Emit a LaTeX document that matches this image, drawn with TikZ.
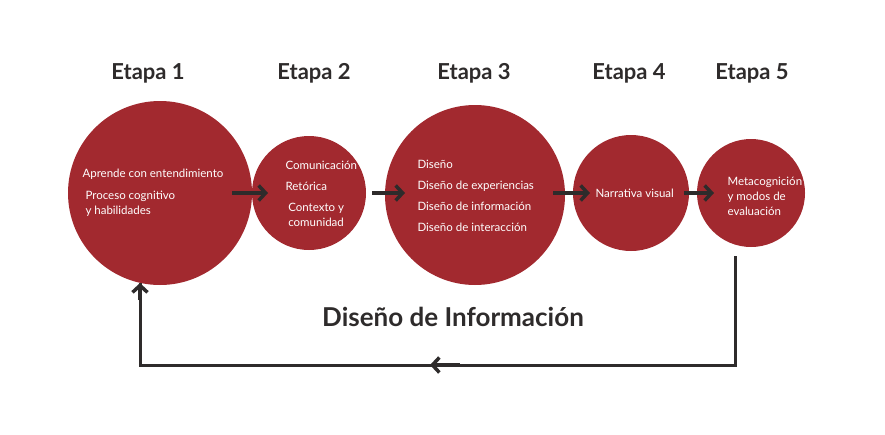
\documentclass[tikz,border=0pt]{standalone}
\usepackage{fontspec}
\setmainfont{Lato}
\usetikzlibrary{arrows.meta}
\definecolor{wine}{HTML}{A2292F}
\definecolor{dark}{HTML}{2E2B2B}
\begin{document}
\begin{tikzpicture}[x=1pt,y=-1pt,
  stage/.style={circle,fill=wine,draw=none,inner sep=0pt},
  ttl/.style={font=\bfseries\fontsize{22}{26}\selectfont,text=dark},
  txt/.style={text=white,font=\fontsize{11.5}{21}\selectfont,align=left,anchor=west},
  conn/.style={draw=dark,line width=3.5pt,-{Straight Barb[length=7pt,width=15pt,line width=3.5pt]}},
  loopline/.style={draw=dark,line width=3pt}]
\useasboundingbox (0,0) rectangle (885,434);
\node[stage,minimum size=184pt] (c1) at (160,193) {};
\node[stage,minimum size=114pt] (c2) at (309,193) {};
\node[stage,minimum size=180pt] (c3) at (475,195) {};
\node[stage,minimum size=116pt] (c4) at (631,193) {};
\node[stage,minimum size=108pt] (c5) at (751,193) {};
\node[ttl] (t1) at (148,73) {Etapa 1};
\node[ttl] (t2) at (314,73) {Etapa 2};
\node[ttl] (t3) at (474,73) {Etapa 3};
\node[ttl] (t4) at (629,73) {Etapa 4};
\node[ttl] (t5) at (752,73) {Etapa 5};
\node[txt] (l1) at (79,174) {Aprende con entendimiento};
\node[txt] (l1b) at (82,204) {Proceso cognitivo\\[-6pt]y habilidades};
\node[txt] (l2) at (282,194) {Comunicación\\Retórica\\\phantom{i}Contexto y\\[-6pt]\phantom{i}comunidad};
\node[txt] (l3) at (414,196) {Diseño\\Diseño de experiencias\\Diseño de información\\Diseño de interacción};
\node[txt] (l4) at (592,193) {Narrativa visual};
\node[txt] (l5) at (724,196) {Metacognición\\[-6pt]y modos de\\[-6pt]evaluación};
\node[font=\bfseries\fontsize{26}{30}\selectfont,text=dark] (bot) at (453,317) {Diseño de Información};
\draw[conn] (232,193) -- (268,193);
\draw[conn] (372,193) -- (405,193);
\draw[conn] (553,193) -- (590,193);
\draw[conn] (684,193) -- (714,193);
\coordinate (a) at (735,256);
\coordinate (b) at (735,365);
\coordinate (m) at (430,365);
\coordinate (c) at (140,365);
\coordinate (d) at (140,283);
\draw[loopline] (a) -- (b) -- (c) -- (d);
\draw[conn] (460,365) -- (m);
\draw[conn] (140,300) -- (d);
\end{tikzpicture}
\end{document}
